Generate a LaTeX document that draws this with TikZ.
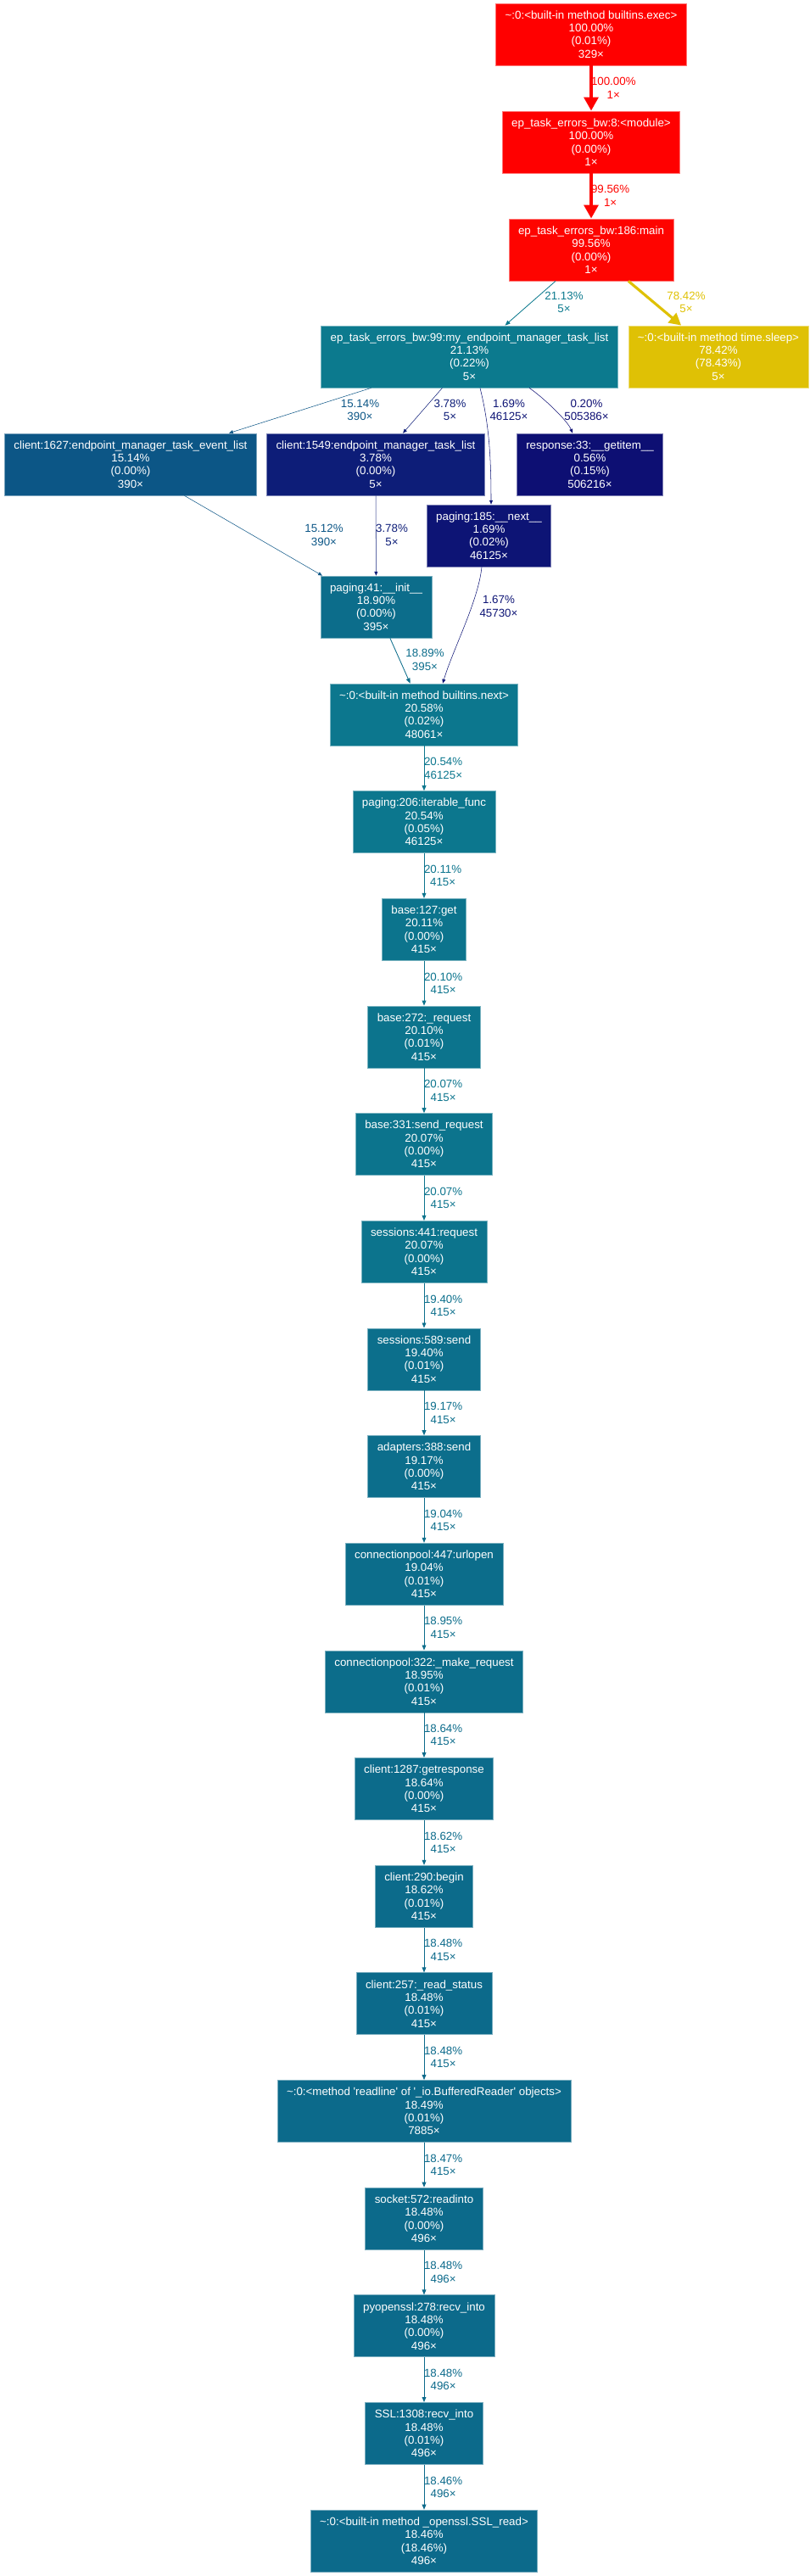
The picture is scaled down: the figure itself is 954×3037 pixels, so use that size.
\documentclass[tikz,border=0pt]{standalone}
\usepackage{fontspec}
\newfontfamily\callfont{Liberation Sans}[Ligatures=TeXOff]
\usetikzlibrary{arrows.meta,calc}
\definecolor{heat100}{HTML}{FF0000}
\definecolor{heat996}{HTML}{FE0400}
\definecolor{heat784}{HTML}{DFC105}
\definecolor{heat211}{HTML}{0C7A8E}
\definecolor{heat206}{HTML}{0C778E}
\definecolor{heat201}{HTML}{0C748D}
\definecolor{heat194}{HTML}{0C6F8C}
\definecolor{heat192}{HTML}{0C6E8C}
\definecolor{heat190}{HTML}{0C6D8B}
\definecolor{heat186}{HTML}{0C6B8B}
\definecolor{heat185}{HTML}{0C6A8B}
\definecolor{heat151}{HTML}{0C5686}
\definecolor{heat038}{HTML}{0D1D78}
\definecolor{heat017}{HTML}{0D1475}
\definecolor{heat006}{HTML}{0D0F73}
\definecolor{heat002}{HTML}{0D0E73}
\newcommand{\callsize}{\callfont\fontsize{10pt}{11.5pt}\selectfont}
\tikzset{
	fn/.style={rectangle, fill=#1, draw=#1!55!white, line width=0.6pt, text=white, font=\callsize, align=center, minimum height=54.75pt, inner xsep=8.25pt, inner ysep=0pt},
	lbl/.style={text=#1, font=\callsize, align=center, inner sep=0pt, outer sep=0pt},
	heavy/.style={draw=#1, line width=3pt, -{Triangle[length=12pt,width=12.5pt]}},
	warm/.style={draw=#1, line width=2.35pt, -{Triangle[length=10.5pt,width=11pt]}},
	call/.style={draw=#1, line width=0.63pt, -{Triangle[length=4.5pt,width=3.6pt]}},
	faint/.style={draw=#1, line width=0.4pt, -{Triangle[length=3.6pt,width=3pt]}}
}

\begin{document}
\begin{tikzpicture}[x=0.75pt, y=-0.75pt]
				
					\useasboundingbox (0,0) rectangle (954,3037);
					
					\node[fn=heat100] (exec) at (697,40.5) {\textasciitilde:0:<built-in method builtins.exec>\\100.00\%\\(0.01\%)\\329×};
					\node[fn=heat100] (module) at (697,167.5) {ep\_task\_errors\_bw:8:<module>\\100.00\%\\(0.00\%)\\1×};
					\node[fn=heat996] (main) at (697,294.5) {ep\_task\_errors\_bw:186:main\\99.56\%\\(0.00\%)\\1×};
					
					\node[fn=heat211] (myep) at (553.5,420.5) {ep\_task\_errors\_bw:99:my\_endpoint\_manager\_task\_list\\21.13\%\\(0.22\%)\\5×};
					\node[fn=heat784] (sleep) at (847,420.5) {\textasciitilde:0:<built-in method time.sleep>\\78.42\%\\(78.43\%)\\5×};
					
					\node[fn=heat151] (evlist) at (154,547.5) {client:1627:endpoint\_manager\_task\_event\_list\\15.14\%\\(0.00\%)\\390×};
					\node[fn=heat038] (tasklist) at (443,547.5) {client:1549:endpoint\_manager\_task\_list\\3.78\%\\(0.00\%)\\5×};
					\node[fn=heat006] (getitem) at (695.5,547.5) {response:33:\_\_getitem\_\_\\0.56\%\\(0.15\%)\\506216×};
					\node[fn=heat017] (pnext) at (576.5,631.5) {paging:185:\_\_next\_\_\\1.69\%\\(0.02\%)\\46125×};
					\node[fn=heat190] (pinit) at (443.5,715.5) {paging:41:\_\_init\_\_\\18.90\%\\(0.00\%)\\395×};
					
					\node[fn=heat206] (bnext) at (500,842.5) {\textasciitilde:0:<built-in method builtins.next>\\20.58\%\\(0.02\%)\\48061×};
					\node[fn=heat206] (iterfunc) at (500,969.1) {paging:206:iterable\_func\\20.54\%\\(0.05\%)\\46125×};
					\node[fn=heat201] (get) at (500,1095.8) {base:127:get\\20.11\%\\(0.00\%)\\415×};
					\node[fn=heat201] (request) at (500,1222.5) {base:272:\_request\\20.10\%\\(0.01\%)\\415×};
					\node[fn=heat201] (sendreq) at (500,1349.1) {base:331:send\_request\\20.07\%\\(0.00\%)\\415×};
					\node[fn=heat201] (sesreq) at (500,1475.8) {sessions:441:request\\20.07\%\\(0.00\%)\\415×};
					\node[fn=heat194] (sessend) at (500,1602.4) {sessions:589:send\\19.40\%\\(0.01\%)\\415×};
					\node[fn=heat192] (adsend) at (500,1729.1) {adapters:388:send\\19.17\%\\(0.00\%)\\415×};
					\node[fn=heat190] (urlopen) at (500,1855.7) {connectionpool:447:urlopen\\19.04\%\\(0.01\%)\\415×};
					\node[fn=heat190] (makereq) at (500,1982.4) {connectionpool:322:\_make\_request\\18.95\%\\(0.01\%)\\415×};
					\node[fn=heat186] (getresp) at (500,2109) {client:1287:getresponse\\18.64\%\\(0.00\%)\\415×};
					\node[fn=heat186] (begin) at (500,2235.7) {client:290:begin\\18.62\%\\(0.01\%)\\415×};
					\node[fn=heat185] (readstat) at (500,2362.3) {client:257:\_read\_status\\18.48\%\\(0.01\%)\\415×};
					\node[fn=heat185] (readline) at (500,2489) {\textasciitilde:0:<method 'readline' of '\_io.BufferedReader' objects>\\18.49\%\\(0.01\%)\\7885×};
					\node[fn=heat185] (readinto) at (500,2615.6) {socket:572:readinto\\18.48\%\\(0.00\%)\\496×};
					\node[fn=heat185] (pyrecv) at (500,2742.3) {pyopenssl:278:recv\_into\\18.48\%\\(0.00\%)\\496×};
					\node[fn=heat185] (sslrecv) at (500,2868.9) {SSL:1308:recv\_into\\18.48\%\\(0.01\%)\\496×};
					\node[fn=heat185] (sslread) at (500,2995.6) {\textasciitilde:0:<built-in method \_openssl.SSL\_read>\\18.46\%\\(18.46\%)\\496×};
					
					\draw[heavy=heat100] (exec) -- node[lbl=heat100, right] {100.00\%\\1×} (module);
					\draw[heavy=heat996] (module) -- node[lbl=heat996, right] {99.56\%\\1×} (main);
					\draw[call=heat211] (main) -- (myep) node[lbl=heat211] at (665,356.5) {21.13\%\\5×};
					\draw[warm=heat784] (main) -- (sleep) node[lbl=heat784] at (809,356.5) {78.42\%\\5×};
					
					\draw[faint=heat151] (myep) -- (evlist) node[lbl=heat151] at (424.5,483.5) {15.14\%\\390×};
					\draw[faint=heat038] (myep) -- (tasklist) node[lbl=heat038] at (530.5,483.5) {3.78\%\\5×};
					\draw[faint=heat017] ($(myep.south)+(12.5,0)$) .. controls +(10,40) and +(0,-60) .. ($(pnext.north)+(2.5,0)$) node[lbl=heat017] at (600,483.5) {1.69\%\\46125×};
					\draw[faint=heat002] ($(myep.south)+(70.5,0)$) .. controls +(15,10) and +(-6,-15) .. ($(getitem.north)+(-20.5,0)$) node[lbl=heat002] at (691.5,483.5) {0.20\%\\505386×};
					
					\draw[faint=heat151] (evlist) -- (pinit) node[lbl=heat151] at (382,631) {15.12\%\\390×};
					\draw[faint=heat038] (tasklist) -- (pinit) node[lbl=heat038] at (462,631) {3.78\%\\5×};
					\draw[faint=heat017] ($(pnext.south)+(-8.5,0)$) .. controls +(-4,40) and +(12,-40) .. ($(bnext.north)+(22,0)$) node[lbl=heat017] at (588,715) {1.67\%\\45730×};
					\draw[call=heat190] (pinit) -- (bnext) node[lbl=heat190] at (501,778) {18.89\%\\395×};
					
					\draw[call=heat206] (bnext) -- node[lbl=heat206, right] {20.54\%\\46125×} (iterfunc);
					\draw[call=heat201] (iterfunc) -- node[lbl=heat201, right] {20.11\%\\415×} (get);
					\draw[call=heat201] (get) -- node[lbl=heat201, right] {20.10\%\\415×} (request);
					\draw[call=heat201] (request) -- node[lbl=heat201, right] {20.07\%\\415×} (sendreq);
					\draw[call=heat201] (sendreq) -- node[lbl=heat201, right] {20.07\%\\415×} (sesreq);
					\draw[call=heat194] (sesreq) -- node[lbl=heat194, right] {19.40\%\\415×} (sessend);
					\draw[call=heat192] (sessend) -- node[lbl=heat192, right] {19.17\%\\415×} (adsend);
					\draw[call=heat190] (adsend) -- node[lbl=heat190, right] {19.04\%\\415×} (urlopen);
					\draw[call=heat190] (urlopen) -- node[lbl=heat190, right] {18.95\%\\415×} (makereq);
					\draw[call=heat186] (makereq) -- node[lbl=heat186, right] {18.64\%\\415×} (getresp);
					\draw[call=heat186] (getresp) -- node[lbl=heat186, right] {18.62\%\\415×} (begin);
					\draw[call=heat185] (begin) -- node[lbl=heat185, right] {18.48\%\\415×} (readstat);
					\draw[call=heat185] (readstat) -- node[lbl=heat185, right] {18.48\%\\415×} (readline);
					\draw[call=heat185] (readline) -- node[lbl=heat185, right] {18.47\%\\415×} (readinto);
					\draw[call=heat185] (readinto) -- node[lbl=heat185, right] {18.48\%\\496×} (pyrecv);
					\draw[call=heat185] (pyrecv) -- node[lbl=heat185, right] {18.48\%\\496×} (sslrecv);
					\draw[call=heat185] (sslrecv) -- node[lbl=heat185, right] {18.46\%\\496×} (sslread);
										
				\end{tikzpicture}
\end{document}
